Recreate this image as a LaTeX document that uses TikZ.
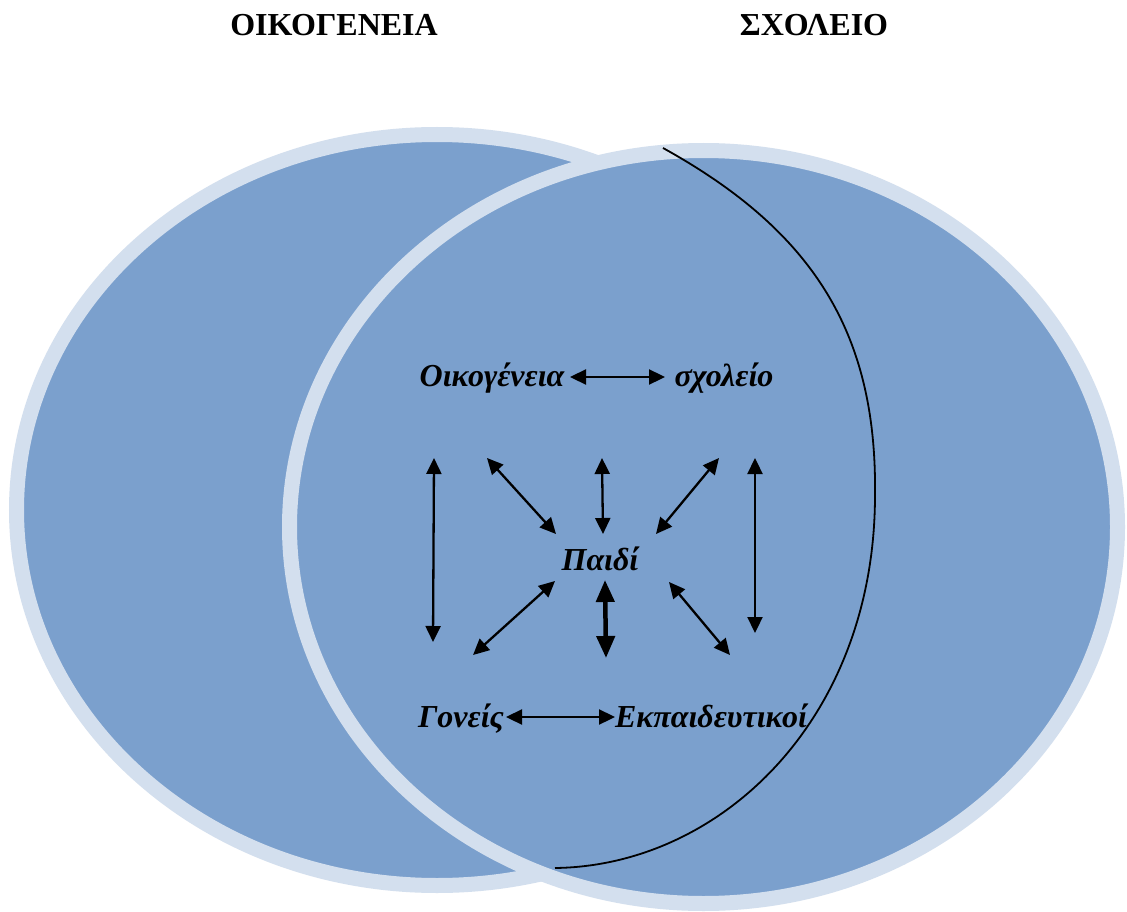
\documentclass[tikz,border=0pt]{standalone}
\usepackage{fontspec}
\setmainfont{Liberation Serif}
\usetikzlibrary{arrows.meta}
\definecolor{fillblue}{RGB}{123,160,205}
\definecolor{rimblue}{RGB}{211,223,238}
\begin{document}
\begin{tikzpicture}[x=1pt,y=-1pt,
  circ/.style={fill=fillblue, draw=rimblue, line width=15pt},
  titletext/.style={font=\fontsize{32}{38}\selectfont\bfseries, anchor=base, inner sep=0pt},
  lbl/.style={font=\fontsize{32}{38}\selectfont\bfseries\itshape, anchor=base, inner sep=0pt},
  link/.style={line width=2.3pt, {Triangle[length=16pt,width=15pt]}-{Triangle[length=16pt,width=15pt]}},
  thicklink/.style={line width=4.5pt, {Triangle[length=22pt,width=18pt]}-{Triangle[length=22pt,width=18pt]}},
  arcline/.style={line width=1.8pt}]
\useasboundingbox (0,0) rectangle (1127,912);
\fill[white] (0,0) rectangle (1127,912);

% two circles
\path[circ] (437,510) ellipse [x radius=420.5pt, y radius=375.5pt];
\path[circ] (703.5,527) ellipse [x radius=414pt, y radius=376.5pt];

% titles
\node[titletext] (t1) at (334,36) {ΟΙΚΟΓΕΝΕΙΑ};
\node[titletext] (t2) at (814,36) {ΣΧΟΛΕΙΟ};

% labels
\node[lbl] (oik) at (492,386) {Οικογένεια};
\node[lbl] (sch) at (724,386) {σχολείο};
\node[lbl] (paidi) at (600,570) {Παιδί};
\node[lbl] (gon) at (461,727) {Γονείς};
\node[lbl] (ekp) at (711,727) {Εκπαιδευτικοί};

% arrow end points
\coordinate (h1a) at (570,377);
\coordinate (h1b) at (665,377);
\coordinate (h2a) at (506,717);
\coordinate (h2b) at (615,717);
\coordinate (lva) at (434,458);
\coordinate (lvb) at (433,642);
\coordinate (rva) at (755,458);
\coordinate (rvb) at (755,633);
\coordinate (ula) at (487,458);
\coordinate (ulb) at (556,534);
\coordinate (uca) at (602,458);
\coordinate (ucb) at (603,534);
\coordinate (ura) at (719,458);
\coordinate (urb) at (656,534);
\coordinate (lla) at (555,581);
\coordinate (llb) at (473,655);
\coordinate (lca) at (605,580);
\coordinate (lcb) at (606,658);
\coordinate (lra) at (669,582);
\coordinate (lrb) at (730,655);

\draw[link] (h1a) -- (h1b);
\draw[link] (h2a) -- (h2b);
\draw[link] (lva) -- (lvb);
\draw[link] (rva) -- (rvb);
\draw[link] (ula) -- (ulb);
\draw[link] (uca) -- (ucb);
\draw[link] (ura) -- (urb);
\draw[link] (lla) -- (llb);
\draw[thicklink] (lca) -- (lcb);
\draw[link] (lra) -- (lrb);

% black arc
\coordinate (arcA) at (663,148);
\coordinate (arcM) at (875,495);
\coordinate (arcB) at (555,868);
\draw[arcline] (arcA) .. controls (815,232) and (877,335) .. (arcM)
  .. controls (875,720) and (720,866) .. (arcB);
\end{tikzpicture}
\end{document}
